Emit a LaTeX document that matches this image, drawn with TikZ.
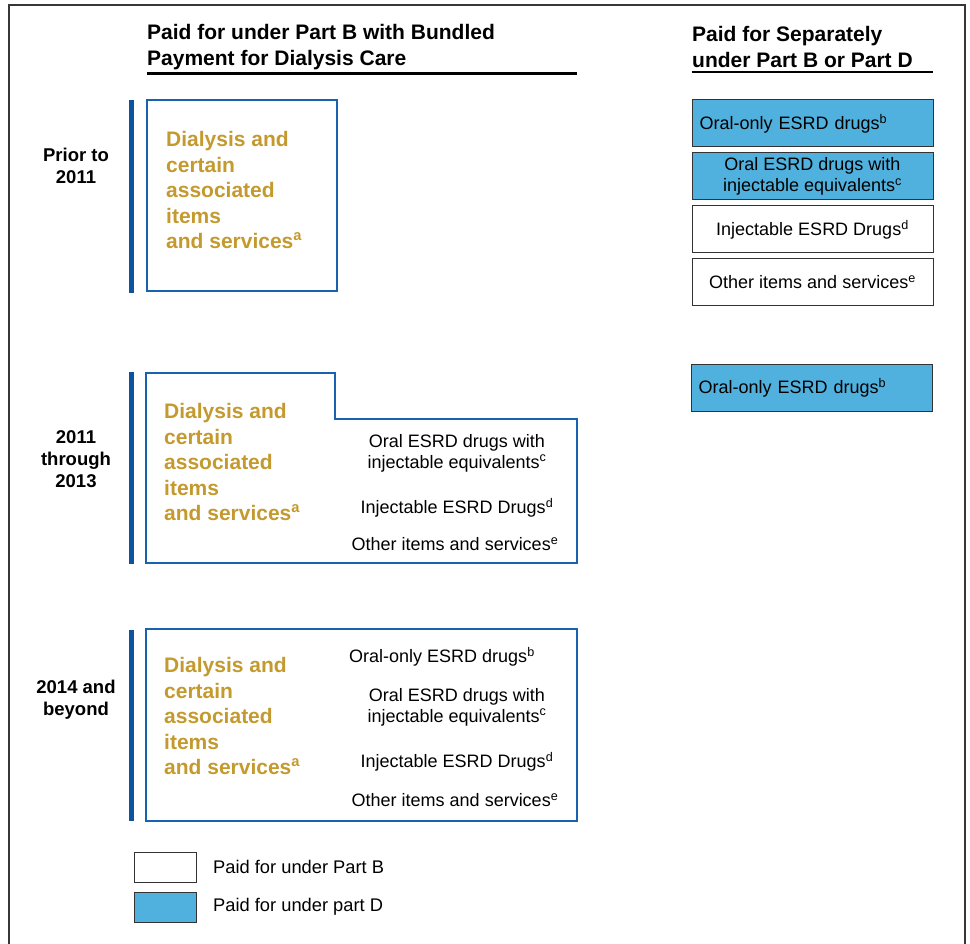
\documentclass[tikz,border=0pt]{standalone}
\usepackage{fontspec}
\setmainfont{Liberation Sans}
\usetikzlibrary{positioning}
\definecolor{bardark}{RGB}{12,84,160}
\definecolor{boxblue}{RGB}{24,98,178}
\definecolor{partd}{RGB}{80,176,222}
\definecolor{gold}{RGB}{196,154,46}
\definecolor{framegray}{RGB}{55,55,55}
\newcommand{\colw}{241pt}
\newcommand{\colh}{47pt}
\newcommand{\bodyfont}{\fontsize{18}{21}\selectfont}

\begin{document}
\begin{tikzpicture}[x=1pt,y=-1pt]
        \tikzset{head/.style = {anchor=west, align=left, inner sep=0pt, font=\fontsize{21}{26}\selectfont\bfseries}}
        \tikzset{year/.style = {align=center, inner sep=0pt, font=\fontsize{18.5}{22}\selectfont\bfseries}}
        \tikzset{golden/.style = {anchor=west, align=left, inner sep=0pt, text=gold, font=\fontsize{21}{25.5}\selectfont\bfseries}}
        \tikzset{item/.style = {align=center, inner sep=0pt, font=\bodyfont}}
        \tikzset{sepbox/.style = {draw=black!80, line width=1pt, outer sep=0pt, minimum width=\colw, minimum height=\colh, inner sep=0pt, align=center, font=\bodyfont}}
        \tikzset{leftbox/.style = {sepbox, text width=226pt, align=left}}
        \tikzset{period/.style = {draw=boxblue, line width=1.6pt}}
        \tikzset{legbox/.style = {draw=black!80, line width=1pt, outer sep=0pt, minimum width=62pt, minimum height=30pt, inner sep=0pt}}
        \useasboundingbox (0,0) rectangle (970,944);
        \draw[framegray, line width=1.5pt] (9,944) -- (9,5) -- (965,5) -- (965,944);

        \node[head] (hbundle) at (147,47) {Paid for under Part B with Bundled\\Payment for Dialysis Care};
        \node[head] (hsep) at (692,47) {Paid for Separately\\under Part B or Part D};
        \draw[line width=3pt] (147,74) -- (577,74);
        \draw[line width=2pt] (692,72) -- (933,72);

        \node[year] (yprior) at (76,166) {Prior to\\2011};
        \node[year] (ythrough) at (76,459) {2011\\through\\2013};
        \node[year] (ybeyond) at (76,700) {2014 and\\beyond};

        \fill[bardark] (129,100) rectangle (134,293);
        \fill[bardark] (129,372) rectangle (134,564);
        \fill[bardark] (129,630) rectangle (134,821);

        \draw[period] (147,100) rectangle (337,291);
        \draw[period] (146,373) -- (335,373) -- (335,419) -- (577,419) -- (577,563) -- (146,563) -- cycle;
        \draw[period] (146,629) rectangle (577,821);

        \node[golden] (dprior) at (166,190) {Dialysis and\\certain\\associated\\items\\and services\textsuperscript{a}};
        \node[golden] (dthrough) at (164,462) {Dialysis and\\certain\\associated\\items\\and services\textsuperscript{a}};
        \node[golden] (dbeyond) at (164,716) {Dialysis and\\certain\\associated\\items\\and services\textsuperscript{a}};

        \node[item] (tequiv) at (457,453) {Oral ESRD drugs with\\injectable equivalents\textsuperscript{c}};
        \node[item] (tinject) at (457,508) {Injectable ESRD Drugs\textsuperscript{d}};
        \node[item] (tother) at (455,544) {Other items and services\textsuperscript{e}};

        \node[item] (boral) at (442,657) {Oral-only ESRD drugs\textsuperscript{b}};
        \node[item] (bequiv) at (457,707) {Oral ESRD drugs with\\injectable equivalents\textsuperscript{c}};
        \node[item] (binject) at (457,762) {Injectable ESRD Drugs\textsuperscript{d}};
        \node[item] (bother) at (455,800) {Other items and services\textsuperscript{e}};

        \node[leftbox, fill=partd, anchor=north west] (poral) at (692,100) {Oral-only ESRD drugs\textsuperscript{b}};
        \node[sepbox, fill=partd, below=6pt of poral] (pequiv) {Oral ESRD drugs with\\injectable equivalents\textsuperscript{c}};
        \node[sepbox, below=6pt of pequiv] (pinject) {Injectable ESRD Drugs\textsuperscript{d}};
        \node[sepbox, below=6pt of pinject] (pother) {Other items and services\textsuperscript{e}};
        \node[leftbox, fill=partd, anchor=north west] (toral) at (691,364) {Oral-only ESRD drugs\textsuperscript{b}};

        \node[legbox, anchor=north west] (legb) at (134,852) {};
        \node[legbox, fill=partd, anchor=north west] (legd) at (134,892) {};
        \node[item, right=17pt of legb, font=\fontsize{18.3}{21}\selectfont] (legbtext) {Paid for under Part B};
        \node[item, right=17pt of legd, font=\fontsize{18.3}{21}\selectfont] (legdtext) {Paid for under part D};

    \end{tikzpicture}
\end{document}
